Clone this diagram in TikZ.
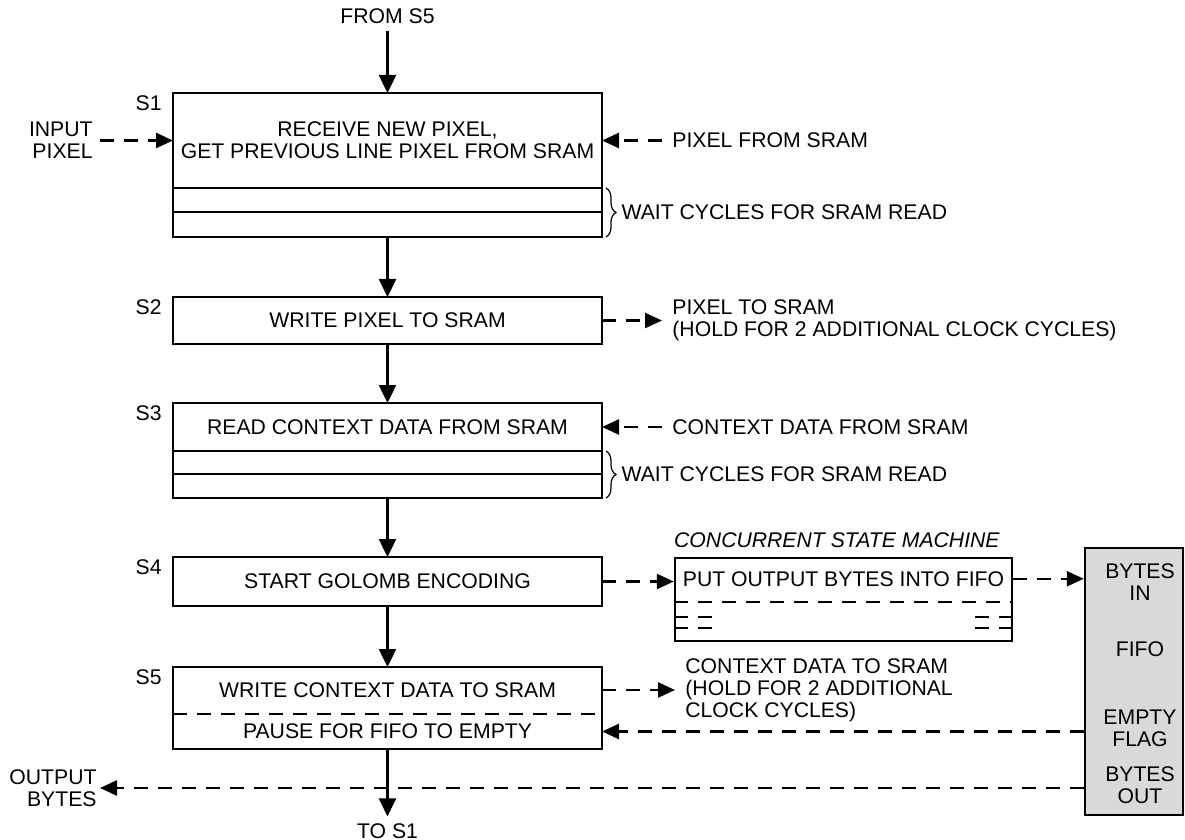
\documentclass[tikz,border=0pt]{standalone}
\usepackage{fontspec}
\setmainfont{Liberation Sans}
\usetikzlibrary{positioning,calc,arrows.meta,decorations.pathreplacing}

\begin{document}
\begin{tikzpicture}[x=0.5pt,y=-0.5pt,
  font=\fontsize{10.6pt}{11pt}\selectfont,
  state/.style={draw,line width=1.25pt,outer sep=0pt,inner sep=0pt,minimum width=214.5pt,align=center},
  note/.style={align=left,inner xsep=5pt,inner ysep=1pt},
  slabel/.style={anchor=north east,inner sep=0pt},
  flow/.style={line width=1.25pt,-{Triangle[length=9pt,width=8.5pt]}},
  sig/.style={line width=1.25pt,dash pattern=on 7pt off 5pt,-{Triangle[length=8.5pt,width=7.5pt]}},
  dline/.style={line width=1.25pt,dash pattern=on 7pt off 5pt},
  wbrace/.style={line width=0.6pt,decorate,decoration={brace,amplitude=5pt}}]

\useasboundingbox (0,0) rectangle (1185,840);

% main state sequence
\node[state,minimum height=47.5pt] (s1) at (387.5,140.5) {RECEIVE NEW PIXEL,\\GET PREVIOUS LINE PIXEL FROM SRAM};
\node[state,minimum height=12pt,below=0pt of s1] (s1w1) {};
\node[state,minimum height=12.5pt,below=0pt of s1w1] (s1w2) {};
\node[state,minimum height=23.5pt,below=30pt of s1w2] (s2) {WRITE PIXEL TO SRAM};
\node[state,minimum height=24pt,below=29.5pt of s2] (s3) {READ CONTEXT DATA FROM SRAM};
\node[state,minimum height=11.5pt,below=0pt of s3] (s3w1) {};
\node[state,minimum height=12pt,below=0pt of s3w1] (s3w2) {};
\node[state,minimum height=24.5pt,below=29.5pt of s3w2] (s4) {START GOLOMB ENCODING};
\node[state,minimum height=41pt,below=30.5pt of s4] (s5) {};
\node (s5w) at ([yshift=-11.5pt]s5.north) {WRITE CONTEXT DATA TO SRAM};
\node (s5p) at ([yshift=8.75pt]s5.south) {PAUSE FOR FIFO TO EMPTY};
\draw[dline] ([yshift=-23.5pt]s5.north west) -- ([yshift=-23.5pt]s5.north east);

\foreach \s in {1,...,5}
  \node[slabel] (l\s) at ([xshift=-5.5pt,yshift=-1pt]s\s.north west) {S\s};

\node (from) at (387.5,16) {FROM S5};
\node (to) at (387.5,831) {TO S1};
\draw[flow] (from) -- (s1);
\draw[flow] (s1w2) -- (s2);
\draw[flow] (s2) -- (s3);
\draw[flow] (s3w2) -- (s4);
\draw[flow] (s4) -- (s5);
\draw[flow] (s5) -- (to);

% signals on the left
\node[align=right,anchor=east,inner xsep=3.5pt] (inpx) at (100,140.5) {INPUT\\PIXEL};
\draw[sig] (inpx.east) -- (s1.west);
\node[align=right,anchor=east,inner xsep=1.5pt] (outb) at (100,788) {OUTPUT\\BYTES};

% SRAM traffic
\node[note,right=30pt of s1.east] (pxin) {PIXEL FROM SRAM};
\draw[sig] (pxin.west) -- (s1.east);
\node[note,right=30pt of s2.east] (pxout) {PIXEL TO SRAM\\(HOLD FOR 2 ADDITIONAL CLOCK CYCLES)};
\draw[sig] (s2.east) -- (pxout.west);
\node[note,right=30pt of s3.east] (ctxin) {CONTEXT DATA FROM SRAM};
\draw[sig] (ctxin.west) -- (s3.east);
\coordinate (s5o) at (s5.east |- s5w);
\node[note,right=36.5pt of s5o] (ctxout) {CONTEXT DATA TO SRAM\\(HOLD FOR 2 ADDITIONAL\\CLOCK CYCLES)};
\draw[sig] (s5o) -- (ctxout.west);

\draw[wbrace] ([xshift=2pt]s1w1.north east) -- ([xshift=2pt]s1w2.south east)
  node[midway,right=5pt,inner sep=2.5pt] (wait1) {WAIT CYCLES FOR SRAM READ};
\draw[wbrace] ([xshift=2pt]s3w1.north east) -- ([xshift=2pt]s3w2.south east)
  node[midway,right=5pt,inner sep=2.5pt] (wait3) {WAIT CYCLES FOR SRAM READ};

% concurrent state machine
\node[draw,line width=1.25pt,minimum width=168.5pt,minimum height=41.5pt,inner sep=0pt] (csm) at (843.5,599.5) {};
\node (csmt) at ([yshift=-11pt]csm.north) {PUT OUTPUT BYTES INTO FIFO};
\node[anchor=base west,inner sep=0pt,font=\fontsize{10.6pt}{11pt}\selectfont\itshape] (csml)
  at ([yshift=4.5pt]csm.north west) {CONCURRENT STATE MACHINE};
\draw[dline] ([yshift=-22.5pt]csm.north west) -- ([yshift=-22.5pt]csm.north east);
\foreach \d in {30,35.5} {
  \draw[dline] ([yshift=-\d pt]csm.north west) -- ++(20pt,0pt);
  \draw[dline] ([yshift=-\d pt]csm.north east) -- ++(-20pt,0pt);
}
\draw[sig] (s4.east) -- (csm.west |- s4.east);

% FIFO
\node[draw,line width=1.25pt,fill=black!15,minimum width=49pt,minimum height=133.5pt,inner sep=0pt] (fifo) at (1134,681.5) {};
\node[align=center] (bin) at (1140,582) {BYTES\\IN};
\node (ff) at (1140,649) {FIFO};
\node[align=center] (ef) at (1140,728.5) {EMPTY\\FLAG};
\node[align=center] (bout) at (1140,785.5) {BYTES\\OUT};

\draw[sig] (csm.east |- csmt) -- (fifo.west |- csmt);
\draw[sig] (fifo.west |- s5p) -- (s5.east |- s5p);
\draw[sig] (fifo.west |- outb.east) -- (outb.east);
\end{tikzpicture}
\end{document}
